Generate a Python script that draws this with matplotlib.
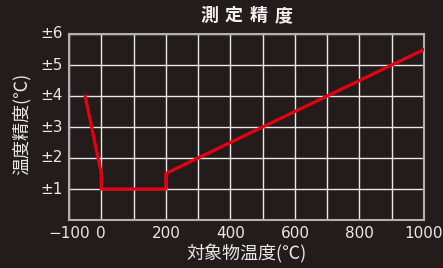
import matplotlib
matplotlib.use("Agg")
import matplotlib.pyplot as plt

x_vals = [-50, 0, 0, 200, 200, 1000]
y_vals = [4.0, 1.5, 1.0, 1.0, 1.5, 5.5]
x_ticks = [-100, 0, 200, 400, 600, 800, 1000]
x_tick_labels = ["\u2212100", "0", "200", "400", "600", "800", "1000"]
y_ticks = [1, 2, 3, 4, 5, 6]
y_tick_labels = ["±1", "±2", "±3", "±4", "±5", "±6"]
title_chars = ["測", "定", "精", "度"]

bg = "#231c1a"
fam = ["Noto Sans CJK JP", "DejaVu Sans"]
plt.rcParams['font.family'] = fam

fig = plt.figure(figsize=(4.43, 2.68), dpi=100, facecolor=bg)
ax = fig.add_axes([69/443, 1-220/268, (424-69)/443, (220-34)/268])
ax.set_facecolor(bg)
ax.set_xlim(-100, 1000)
ax.set_ylim(0, 6)
for v in range(-100, 1001, 100):
    ax.axvline(v, color="#e8e8e8", lw=1, zorder=1)
for v in range(0, 7):
    ax.axhline(v, color="#e8e8e8", lw=1, zorder=1)
ax.set_xticks([])
ax.set_yticks([])
for s in ax.spines.values():
    s.set_color("#b0b0b0")
    s.set_linewidth(1.5)
    s.set_zorder(3)

ax.plot(x_vals, y_vals, color="#e60012", lw=2.3, zorder=4, solid_joinstyle="miter")

tick_font = ["DejaVu Sans"]
for xv, lab in zip(x_ticks, x_tick_labels):
    ax.text(xv, -0.2, lab, ha="center", va="top", color="#e8e8e8", fontsize=11,
            family=tick_font, clip_on=False)
for yv, lab in zip(y_ticks, y_tick_labels):
    ax.text(-0.017, yv, lab, ha="right", va="center", color="#e8e8e8", fontsize=11,
            family=tick_font, transform=ax.get_yaxis_transform(), clip_on=False)

cx = 0.5*(69+424)/443
pitch = 25/443
for i, ch in enumerate(title_chars):
    fig.text(cx + (i - 1.5)*pitch, 1-15.5/268, ch, ha="center", va="center",
             color="#f0f0f0", fontsize=13, fontweight="bold")
fig.text(cx, 1-254/268, "対象物温度(℃)", ha="center", va="center",
         color="#e8e8e8", fontsize=13)
fig.text(22/443, 1-124/268, "温度精度(℃)", ha="center", va="center", rotation=90,
         color="#e8e8e8", fontsize=13)

fig.savefig("out.png", dpi=100, facecolor=bg)
